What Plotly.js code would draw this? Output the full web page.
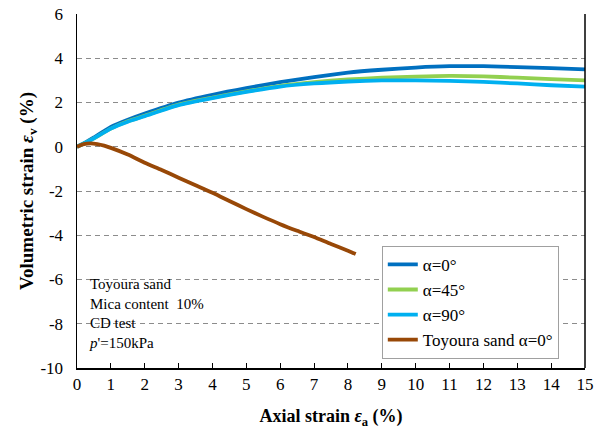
<!DOCTYPE html>
<html>
<head>
<meta charset="utf-8">
<script src="https://cdn.plot.ly/plotly-3.0.1.min.js"></script>
<style>
  html, body { margin: 0; padding: 0; background: #fff; }
  #chart { width: 603px; height: 429px; }
</style>
</head>
<body>
<div id="chart"></div>
<script>
// Axial strain (%) sample points for the mica-mixed specimens
const strainMica = [0, 0.25, 0.5, 1, 1.5, 2, 3, 4, 5, 6, 7, 8, 9, 10, 11, 12, 13, 14, 15];
// Volumetric strain (%) for each bedding angle
const evAlpha0  = [0, 0.20, 0.42, 0.90, 1.22, 1.50, 2.00, 2.35, 2.65, 2.92, 3.15, 3.35, 3.48, 3.58, 3.64, 3.64, 3.60, 3.55, 3.50];
const evAlpha45 = [0, 0.18, 0.38, 0.82, 1.15, 1.40, 1.90, 2.22, 2.50, 2.75, 2.92, 3.04, 3.12, 3.17, 3.20, 3.18, 3.12, 3.06, 3.00];
const evAlpha90 = [0, 0.18, 0.38, 0.82, 1.13, 1.38, 1.88, 2.20, 2.48, 2.72, 2.86, 2.95, 3.00, 3.00, 2.98, 2.93, 2.86, 2.78, 2.72];

// Clean Toyoura sand reference test
const strainSand = [0, 0.2, 0.4, 0.6, 0.8, 1, 1.5, 2, 2.5, 3, 3.5, 4, 4.5, 5, 5.5, 6, 6.5, 7, 7.5, 8, 8.23];
const evSand     = [0, 0.12, 0.15, 0.12, 0.05, -0.05, -0.35, -0.72, -1.05, -1.40, -1.74, -2.08, -2.45, -2.82, -3.17, -3.50, -3.80, -4.08, -4.40, -4.70, -4.85];

const seriesNames = ["α=0°", "α=45°", "α=90°", "Toyoura sand α=0°"];
const xTicks = [0, 1, 2, 3, 4, 5, 6, 7, 8, 9, 10, 11, 12, 13, 14, 15];
const yTicks = [-10, -8, -6, -4, -2, 0, 2, 4, 6];

const serif = "'Liberation Serif', 'Times New Roman', serif";

function line(x, y, name, color) {
  return {
    x: x, y: y, name: name, type: "scatter", mode: "lines",
    line: { color: color, width: 3.8, shape: "spline", smoothing: 0.6 }
  };
}

const traces = [
  line(strainMica, evAlpha0, seriesNames[0], "#0070C0"),
  line(strainMica, evAlpha45, seriesNames[1], "#92D050"),
  line(strainMica, evAlpha90, seriesNames[2], "#00B0F0"),
  line(strainSand, evSand, seriesNames[3], "#984807")
];

const layout = {
  width: 603, height: 429,
  margin: { l: 77, r: 18, t: 14, b: 61 },
  paper_bgcolor: "#fff", plot_bgcolor: "#fff",
  font: { family: serif, size: 17, color: "#000" },
  showlegend: true,
  legend: {
    x: 0.6, y: 0.345, xanchor: "left", yanchor: "top",
    bgcolor: "#fff", bordercolor: "#a0a0a0", borderwidth: 1,
    font: { family: serif, size: 17, color: "#000" },
    tracegroupgap: 0, itemwidth: 30
  },
  xaxis: {
    range: [0, 15], tickvals: xTicks, ticktext: xTicks.map(String),
    showgrid: false, zeroline: false,
    showline: true, linecolor: "#000", linewidth: 1.5,
    ticks: "inside", ticklen: 5, tickcolor: "#000",
    tickfont: { family: serif, size: 17 },
    title: { text: "<b>Axial strain <i>ε</i><sub>a</sub> (%)</b>", font: { family: serif, size: 18 }, standoff: 24 }
  },
  yaxis: {
    range: [-10, 6], tickvals: yTicks, ticktext: yTicks.map(String),
    showgrid: true, gridcolor: "#8c8c8c", griddash: "5px,4px", gridwidth: 1,
    zeroline: false,
    showline: true, linecolor: "#000", linewidth: 1.5,
    ticks: "", ticklabelstandoff: 9, tickfont: { family: serif, size: 17 },
    title: { text: "<b>Volumetric strain <i>ε</i><sub>v</sub> (%)</b>", font: { family: serif, size: 19 }, standoff: 2 }
  },
  shapes: [
    { type: "line", xref: "paper", yref: "paper", x0: 1, x1: 1, y0: 0, y1: 1,
      line: { color: "#000", width: 1.5 } }
  ],
  annotations: [
    {
      xref: "paper", yref: "paper", x: 0.02, y: 0.155,
      xanchor: "left", yanchor: "middle", align: "left", showarrow: false,
      font: { family: serif, size: 15, color: "#000" },
      text: "Toyoura sand<br>Mica content  10%<br>CD test<br><i>p</i>'=150kPa"
    }
  ]
};

Plotly.newPlot("chart", traces, layout, { displayModeBar: false, staticPlot: true });
</script>
</body>
</html>
